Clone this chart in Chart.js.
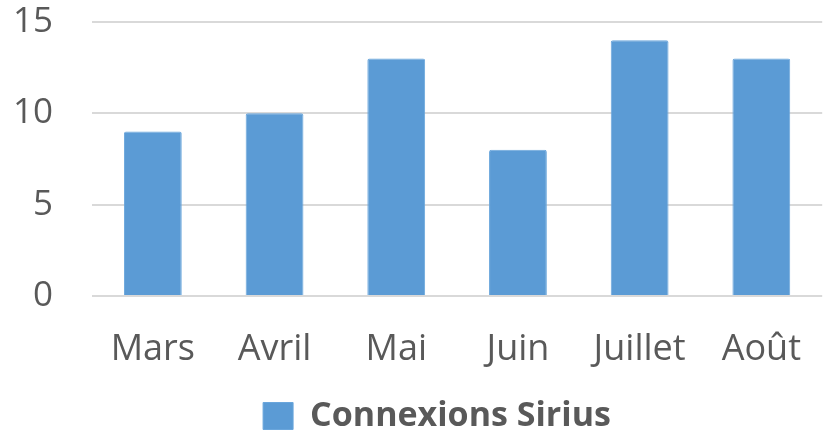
<!DOCTYPE html>
<html>
<head>
<meta charset="utf-8">
<script src="https://cdn.jsdelivr.net/npm/chart.js@4.4.0/dist/chart.umd.min.js"></script>
<style>
  html, body { margin: 0; padding: 0; background: #fff; }
  #wrap { width: 825px; height: 435px; }
</style>
</head>
<body>
<div id="wrap"><canvas id="chart"></canvas></div>
<script>
// données
const mois = ['Mars', 'Avril', 'Mai', 'Juin', 'Juillet', 'Août'];
const connexions = [9, 10, 13, 8, 14, 13];
const yTicks = [0, 5, 10, 15];

const textColor = '#595959';
const barColor = '#5B9BD5';

Chart.defaults.font.family = "'Open Sans', 'Noto Sans', sans-serif";

// décale la légende un peu à droite comme dans l'original
const legendShift = {
    id: 'legendShift',
    afterLayout(chart) {
        const lg = chart.legend;
        if (!lg) return;
        lg.left += 22;
        lg.right += 22;
        lg.legendHitBoxes.forEach(b => { b.left += 22; });
    }
};

new Chart(document.getElementById('chart').getContext('2d'), {
    type: 'bar',
    data: {
        labels: mois,
        datasets: [{
            label: 'Connexions Sirius',
            data: connexions,
            backgroundColor: barColor,
            borderColor: '#6aa6dc',
            borderWidth: 1,
            borderRadius: 2,
            borderSkipped: 'bottom',
            barPercentage: 0.475,
            categoryPercentage: 1
        }]
    },
    options: {
        responsive: true,
        maintainAspectRatio: false,
        animation: false,
        layout: { padding: { top: 0, left: 0, right: -5, bottom: -8 } },
        plugins: {
            tooltip: { enabled: false },
            legend: {
                position: 'bottom',
                labels: {
                    color: textColor,
                    font: { size: 34, weight: 'bold' },
                    boxWidth: 30,
                    boxHeight: 27,
                    padding: 4
                }
            }
        },
        scales: {
            y: {
                min: 0,
                max: 15,
                afterFit: s => {
                    s.width = 92;
                    // garder le haut de la zone de tracé vers y=22
                    s.paddingTop = 22;
                    s.paddingBottom = 0;
                },
                afterBuildTicks: s => { s.ticks = yTicks.map(v => ({ value: v })); },
                ticks: { color: textColor, font: { size: 35 }, padding: 39 },
                grid: { color: '#D9D9D9', lineWidth: 2, drawTicks: false },
                border: { display: false }
            },
            x: {
                afterFit: s => { s.height = 99; },
                ticks: { color: textColor, font: { size: 36 }, padding: 24, maxRotation: 0 },
                grid: { display: false },
                border: { display: false }
            }
        }
    },
    plugins: [legendShift]
});
</script>
</body>
</html>
